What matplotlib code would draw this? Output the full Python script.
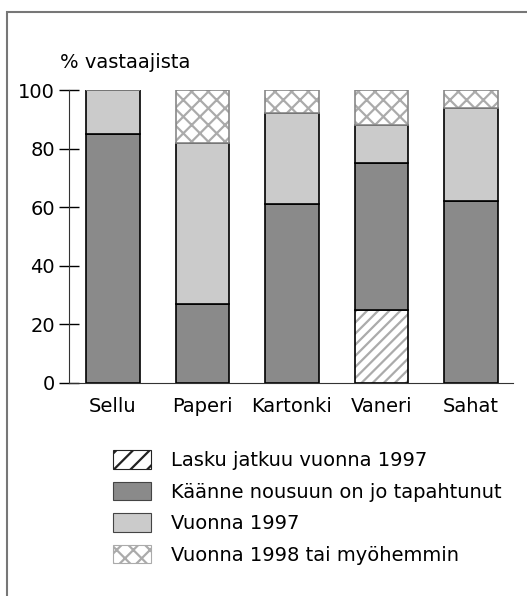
import numpy as np
import matplotlib.pyplot as plt
from matplotlib.patches import Patch, Rectangle

plt.rcParams['font.family'] = ['DejaVu Sans']
plt.rcParams['hatch.linewidth'] = 1.6

# MARK: - Data
categories = ["Sellu", "Paperi", "Kartonki", "Vaneri", "Sahat"]
lasku = [0, 0, 0, 25, 0]          # Lasku jatkuu vuonna 1997
kaanne = [85, 27, 61, 50, 62]     # Käänne nousuun on jo tapahtunut
v1997 = [15, 55, 31, 13, 32]      # Vuonna 1997
v1998 = [0, 18, 8, 12, 6]         # Vuonna 1998 tai myöhemmin
labels = ["Lasku jatkuu vuonna 1997", "Käänne nousuun on jo tapahtunut",
          "Vuonna 1997", "Vuonna 1998 tai myöhemmin"]
yticks = [0, 20, 40, 60, 80, 100]

DARK = "#8a8a8a"
LIGHT = "#cbcbcb"
HATCH_GRAY = "#ababab"
FS = 14

fig = plt.figure(figsize=(5.27, 5.96), dpi=100)
ax = fig.add_axes([69 / 527, 1 - 383 / 596, (513 - 69) / 527, (383 - 90) / 596])

x = np.arange(len(categories))
w = 0.6
b1 = np.array(lasku)
b2 = b1 + np.array(kaanne)
b3 = b2 + np.array(v1997)

# hatched bottom segment: gray stripes, black outline
ax.bar(x, lasku, w, color="white", edgecolor=HATCH_GRAY, hatch="///", linewidth=0)
ax.bar(x, lasku, w, fill=False, edgecolor="black", linewidth=1.2)
ax.bar(x, kaanne, w, bottom=b1, color=DARK, edgecolor="black", linewidth=1.2)
ax.bar(x, v1997, w, bottom=b2, color=LIGHT, edgecolor="black", linewidth=1.2)
ax.bar(x, v1998, w, bottom=b3, color="white", edgecolor=HATCH_GRAY, hatch="xx", linewidth=0)
ax.bar(x, v1998, w, bottom=b3, fill=False, edgecolor="#888888", linewidth=1.2)

ax.set_xlim(-0.49, 4.47)
ax.set_ylim(0, 100)
ax.set_yticks(yticks)
ax.set_xticks(x, categories)
ax.tick_params(axis="y", direction="inout", length=14, width=1, labelsize=FS, pad=3)
ax.tick_params(axis="x", length=0, labelsize=FS, pad=10)
for s in ["top", "right"]:
    ax.spines[s].set_visible(False)
ax.spines["left"].set_color("#333333")
ax.spines["bottom"].set_color("#333333")

fig.text(60 / 527, 1 - 63 / 596, "% vastaajista", fontsize=FS, va="center", ha="left")

# outer frame (cropped on right and bottom)
fig.patches.append(Rectangle((7 / 527, -0.1), 1.2, 1 - 12 / 596 + 0.1,
                             transform=fig.transFigure, fill=False,
                             edgecolor="#777777", linewidth=1.5))

handles = [
    Patch(facecolor="white", edgecolor="#222222", hatch="//", linewidth=0.8),
    Patch(facecolor=DARK, edgecolor="#444444", linewidth=0.8),
    Patch(facecolor=LIGHT, edgecolor="#444444", linewidth=0.8),
    Patch(facecolor="white", edgecolor=HATCH_GRAY, hatch="xx", linewidth=0.8),
]
fig.legend(handles, labels, loc="upper left",
           bbox_to_anchor=(113 / 527, 1 - 450 / 596),
           frameon=False, fontsize=FS, borderpad=0, borderaxespad=0,
           handlelength=1.96, handleheight=1.1, handletextpad=1.03,
           labelspacing=0.6)

fig.savefig("out.png", dpi=100)
